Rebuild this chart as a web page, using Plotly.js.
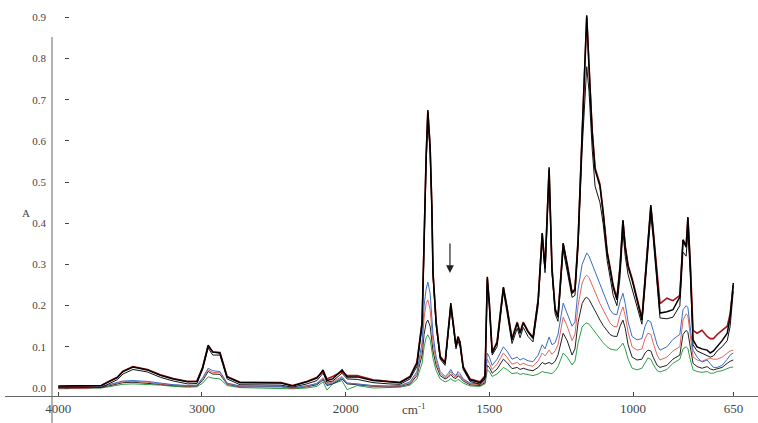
<!DOCTYPE html>
<html>
<head>
<meta charset="utf-8">
<script src="https://cdn.plot.ly/plotly-3.0.1.min.js"></script>
<style>html,body{margin:0;padding:0;background:#fff;}#chart{width:758px;height:423px;}</style>
</head>
<body>
<div id="chart"></div>
<script>
// Wavenumbers (cm-1)
const wavenumbers = [
  4000,3900,3800,3700,3650,3590,3550,3480,3380,3290,
  3200,3100,3035,2995,2957,2925,2875,2860,2825,2735,
  2600,2450,2370,2270,2200,2157,2130,2090,2025,1995,
  1960,1905,1850,1811,1776,1752,1734,1727,1720,1714,
  1706,1700,1696,1685,1671,1654,1643,1634,1626,1616,
  1609,1602,1591,1567,1532,1515,1507,1500,1490,1473,
  1463,1451,1439,1421,1403,1393,1382,1365,1348,1330,
  1316,1306,1292,1282,1271,1261,1243,1229,1212,1202,
  1191,1177,1167,1161,1153,1142,1132,1115,1104,1090,
  1080,1069,1056,1045,1035,1027,1017,1003,986,969,
  958,948,938,930,916,906,882,861,837,826,
  815,809,801,791,777,760,742,731,720,707,
  690,672,662,651
];
const blackA = [
  .005,.005,.005,.006,.015,.025,.040,.051,.044,.031,
  .022,.015,.016,.050,.104,.087,.085,.068,.027,.013,
  .012,.012,.005,.015,.024,.044,.018,.022,.044,.027,
  .027,.018,.015,.013,.027,.060,.158,.400,.560,.675,
  .585,.440,.280,.158,.075,.060,.140,.206,.158,.100,
  .124,.110,.050,.020,.013,.027,.270,.206,.085,.110,
  .172,.245,.197,.117,.158,.133,.158,.136,.121,.214,
  .376,.290,.536,.290,.190,.172,.352,.300,.230,.238,
  .360,.620,.780,.905,.780,.620,.530,.490,.425,.328,
  .290,.245,.214,.294,.408,.342,.294,.262,.214,.165,
  .262,.359,.444,.383,.262,.182,.185,.190,.221,.359,
  .342,.415,.303,.117,.100,.095,.092,.085,.090,.100,
  .115,.133,.172,.255
];
const darkRed = [
  .002,.005,.005,.006,.016,.026,.041,.052,.045,.032,
  .023,.016,.017,.051,.102,.088,.086,.069,.028,.014,
  .013,.013,.006,.016,.026,.040,.022,.028,.040,.030,
  .030,.020,.016,.014,.028,.062,.160,.400,.560,.670,
  .585,.440,.280,.160,.077,.062,.140,.200,.160,.102,
  .125,.112,.052,.022,.015,.030,.265,.205,.087,.112,
  .174,.243,.198,.120,.160,.135,.160,.138,.123,.215,
  .375,.292,.530,.292,.193,.175,.350,.302,.232,.240,
  .362,.620,.780,.900,.780,.625,.535,.495,.430,.332,
  .294,.250,.218,.296,.405,.345,.298,.266,.218,.170,
  .265,.360,.440,.385,.270,.205,.218,.212,.225,.360,
  .345,.412,.310,.140,.133,.140,.125,.120,.120,.130,
  .140,.150,.180,.250
];
const blackB = [
  .000,.000,.000,.001,.010,.020,.034,.045,.039,.026,
  .017,.010,.011,.045,.097,.080,.080,.062,.022,.008,
  .007,.007,.002,.010,.018,.036,.014,.017,.036,.022,
  .021,.013,.010,.009,.022,.052,.150,.380,.540,.655,
  .570,.430,.270,.150,.070,.055,.130,.195,.150,.095,
  .115,.100,.045,.016,.009,.022,.260,.200,.080,.100,
  .160,.235,.185,.108,.145,.122,.147,.125,.112,.200,
  .360,.280,.520,.280,.180,.162,.335,.285,.220,.225,
  .340,.580,.720,.780,.720,.580,.490,.450,.400,.310,
  .270,.225,.200,.270,.380,.320,.275,.240,.200,.155,
  .245,.335,.420,.365,.245,.170,.168,.172,.200,.330,
  .320,.380,.280,.105,.090,.085,.080,.075,.078,.090,
  .100,.115,.150,.235
];
const blue = [
  .004,.004,.004,.004,.008,.013,.017,.018,.016,.012,
  .008,.006,.007,.025,.048,.042,.040,.032,.012,.005,
  .004,.004,.000,.005,.010,.022,.008,.012,.025,.012,
  .010,.006,.005,.006,.015,.040,.110,.200,.240,.257,
  .230,.180,.130,.075,.040,.028,.035,.045,.035,.030,
  .040,.035,.022,.012,.010,.020,.085,.075,.055,.070,
  .085,.100,.090,.070,.075,.068,.072,.066,.064,.080,
  .105,.095,.124,.105,.110,.130,.206,.180,.150,.160,
  .240,.300,.320,.328,.320,.300,.280,.250,.230,.205,
  .190,.180,.178,.210,.230,.205,.160,.125,.117,.120,
  .150,.165,.160,.140,.105,.092,.100,.118,.130,.190,
  .200,.195,.150,.092,.075,.063,.068,.058,.050,.050,
  .055,.070,.080,.085
];
const salmon = [
  -.002,-.002,-.001,.003,.007,.012,.015,.016,.014,.010,
  .007,.005,.006,.022,.044,.038,.037,.029,.010,.004,
  .003,.003,-.001,.004,.012,.025,.010,.015,.028,.012,
  .010,.005,.004,.005,.012,.035,.095,.170,.205,.214,
  .190,.150,.110,.065,.035,.025,.030,.040,.030,.027,
  .035,.030,.020,.010,.008,.016,.070,.060,.045,.058,
  .070,.085,.075,.058,.062,.056,.060,.055,.053,.066,
  .085,.078,.092,.082,.090,.105,.172,.150,.115,.130,
  .200,.255,.270,.274,.268,.250,.230,.205,.190,.170,
  .158,.150,.148,.178,.197,.175,.135,.100,.092,.095,
  .120,.133,.130,.110,.080,.068,.075,.090,.100,.165,
  .180,.175,.130,.075,.068,.065,.070,.072,.070,.070,
  .075,.085,.090,.092
];
const blackC = [
  .002,.002,.002,.002,.005,.010,.013,.014,.012,.009,
  .006,.004,.005,.018,.040,.034,.033,.026,.009,.003,
  .003,.003,-.001,.003,.008,.020,.006,.010,.022,.010,
  .008,.004,.003,.004,.010,.030,.080,.130,.158,.165,
  .150,.120,.090,.055,.030,.022,.026,.033,.026,.023,
  .030,.026,.017,.008,.006,.013,.055,.050,.036,.046,
  .056,.070,.062,.047,.050,.045,.048,.044,.042,.050,
  .062,.058,.062,.058,.065,.080,.133,.115,.080,.095,
  .160,.205,.218,.220,.215,.200,.185,.165,.152,.138,
  .130,.126,.125,.150,.165,.145,.105,.075,.068,.070,
  .085,.092,.090,.075,.055,.050,.055,.070,.080,.130,
  .140,.135,.100,.060,.052,.048,.052,.046,.044,.046,
  .050,.060,.065,.068
];
const green = [
  .000,.000,.000,.000,.003,.007,.009,.010,.009,.007,
  .004,.002,.003,.012,.027,.024,.022,.017,.006,.001,
  .000,.000,-.002,.000,.004,.015,-.005,.010,.018,-.004,
  .006,.000,.001,.002,.007,.022,.060,.100,.122,.129,
  .118,.095,.072,.042,.022,.015,.018,.023,.018,.016,
  .021,.018,.012,.005,.004,.010,.044,.040,.028,.034,
  .042,.050,.045,.035,.037,.033,.035,.032,.030,.034,
  .040,.038,.036,.035,.042,.052,.085,.075,.056,.065,
  .110,.148,.156,.158,.155,.145,.135,.120,.110,.100,
  .095,.093,.092,.100,.109,.095,.070,.048,.044,.048,
  .062,.073,.070,.058,.042,.039,.045,.060,.070,.095,
  .100,.096,.070,.044,.040,.038,.040,.036,.036,.040,
  .042,.048,.050,.051
];
const xTickValues = [4000, 3000, 2000, 1500, 1000, 650];
const xTickLabels = ['4000', '3000', '2000', '1500', '1000', '650'];
const yTickValues = [0, 0.1, 0.2, 0.3, 0.4, 0.5, 0.6, 0.7, 0.8, 0.9];
const yTickLabels = ['0.0','0.1','0.2','0.3','0.4','0.5','0.6','0.7','0.8','0.9'];
const arrowMark = {w: 1637, a: 0.279};

// Spectrometer-style axis: scale doubles below 2000 cm-1
function u(w) { return w >= 2000 ? 4000 - w : 2000 + 2 * (2000 - w); }
const xu = wavenumbers.map(u);

function tr(y, color, width) {
  return {x: xu, y: y, type: 'scatter', mode: 'lines',
    line: {color: color, width: width}, hoverinfo: 'skip', showlegend: false};
}
const data = [
  tr(green, '#2e9e48', 1),
  tr(blackC, '#222222', 1),
  tr(salmon, '#e5645c', 1),
  tr(blue, '#3b6cc3', 1),
  tr(darkRed, '#a51515', 1.6),
  tr(blackB, '#111111', 1),
  tr(blackA, '#000000', 1.5)
];

const serif = '"Liberation Serif"';
const layout = {
  width: 758, height: 423,
  margin: {l: 5, r: 0, t: 0, b: 27, pad: 0},
  paper_bgcolor: '#ffffff', plot_bgcolor: '#ffffff',
  showlegend: false,
  font: {family: serif, size: 12, color: '#444'},
  xaxis: {
    range: [-371, 4870],
    tickvals: xTickValues.map(u), ticktext: xTickLabels,
    ticks: 'inside', ticklen: 4, tickcolor: '#444', tickwidth: 1,
    showline: true, linecolor: '#666', linewidth: 1,
    showgrid: false, zeroline: false,
    tickfont: {family: serif, size: 13, color: '#444'}
  },
  yaxis: {
    range: [-0.0194, 0.942],
    tickvals: yTickValues, ticktext: yTickLabels,
    anchor: 'free', position: 0.0784,
    ticks: 'inside', ticklen: 4, tickcolor: '#444',
    ticklabelstandoff: 18,
    showline: false, showgrid: false, zeroline: false,
    tickfont: {family: serif, size: 11, color: '#444'}
  },
  shapes: [{
    type: 'line', xref: 'paper', yref: 'paper',
    x0: 0.0624, x1: 0.0624, y0: -0.068, y1: 0.9066,
    line: {color: '#666', width: 1}
  }],
  annotations: [
    {xref: 'paper', yref: 'paper', x: 0.542, y: -0.058, text: 'cm<sup>-1</sup>',
     showarrow: false, font: {family: serif, size: 13, color: '#444'}},
    {xref: 'paper', yref: 'paper', x: 0.0199, y: 0.462, text: 'A',
     showarrow: false, font: {family: serif, size: 11, color: '#444'}},
    {x: u(arrowMark.w), y: arrowMark.a, xref: 'x', yref: 'y', text: '',
     showarrow: true, ax: 0, ay: -31, arrowhead: 2, arrowsize: 1.3, arrowwidth: 1.2,
     arrowcolor: '#222'}
  ]
};
Plotly.newPlot('chart', data, layout, {displayModeBar: false, staticPlot: true});
</script>
</body>
</html>
